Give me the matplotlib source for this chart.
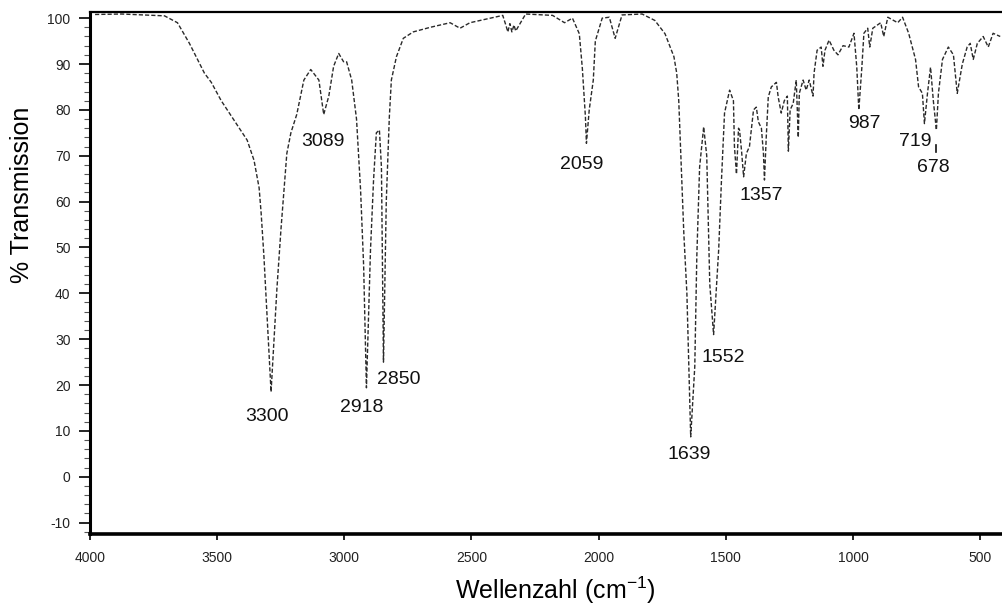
import numpy as np
import matplotlib.pyplot as plt
from matplotlib.ticker import MultipleLocator

# IR spectrum (wavenumber in cm-1, % transmission)
wavenumber = [3980, 3875, 3707, 3656, 3609, 3550, 3523, 3484, 3421, 3382, 3355, 3335,
              3327, 3316, 3288, 3265, 3249, 3237, 3226, 3210, 3187, 3159, 3132, 3100,
              3081, 3061, 3042, 3022, 3003, 2991, 2971, 2952, 2936, 2924, 2913, 2897,
              2885, 2874, 2862, 2854, 2846, 2835, 2823, 2815, 2795, 2768, 2729, 2662,
              2584, 2545, 2506, 2377, 2365, 2357, 2349, 2341, 2333, 2326, 2287, 2181,
              2134, 2103, 2076, 2064, 2052, 2048, 2037, 2021, 2013, 1986, 1958, 1935,
              1908, 1829, 1779, 1739, 1704, 1693, 1685, 1677, 1665, 1653, 1638, 1622,
              1614, 1603, 1587, 1575, 1563, 1548, 1528, 1517, 1505, 1485, 1470, 1466,
              1458, 1450, 1446, 1438, 1430, 1419, 1407, 1391, 1380, 1372, 1360, 1352,
              1348, 1341, 1333, 1321, 1301, 1294, 1282, 1270, 1258, 1254, 1247, 1235,
              1223, 1215, 1211, 1196, 1184, 1172, 1157, 1153, 1141, 1125, 1118, 1110,
              1094, 1075, 1059, 1039, 1016, 996, 985, 977, 965, 957, 942, 934,
              922, 891, 879, 863, 824, 805, 781, 754, 742, 727, 719, 707,
              695, 684, 672, 664, 648, 625, 605, 590, 570, 551, 539, 527,
              511, 488, 468, 449, 421]
transmission = [100.8, 100.9, 100.5, 99.0, 94.5, 88.0, 86.0, 82.0, 76.7, 73.4, 69.0, 63.0,
                57.5, 48.0, 18.5, 41.0, 54.0, 62.5, 70.5, 75.0, 79.0, 86.5, 88.8, 86.5,
                79.0, 83.0, 89.5, 92.3, 90.5, 90.5, 86.5, 78.0, 62.5, 46.0, 19.4, 49.5,
                64.7, 75.0, 75.6, 67.5, 25.0, 60.0, 78.4, 86.5, 91.6, 95.6, 97.0, 98.0,
                99.0, 97.8, 99.0, 100.6, 98.5, 97.0, 98.8, 97.0, 98.5, 97.2, 100.9, 100.6,
                99.0, 100.0, 96.6, 89.0, 78.5, 72.7, 80.0, 86.5, 95.0, 100.0, 100.2, 95.6,
                100.7, 100.9, 99.5, 96.6, 91.6, 88.0, 82.0, 70.5, 53.0, 40.0, 8.7, 24.0,
                48.0, 67.5, 76.3, 70.0, 42.0, 31.0, 49.5, 64.7, 79.3, 84.3, 82.0, 72.0,
                66.0, 76.0, 75.6, 71.0, 65.4, 70.5, 72.0, 80.0, 80.6, 77.4, 76.0, 70.5,
                64.7, 74.0, 82.8, 85.0, 86.0, 82.8, 79.3, 82.0, 83.0, 71.0, 80.0, 81.4,
                86.5, 74.0, 83.6, 86.5, 84.3, 86.5, 83.0, 88.0, 93.0, 93.7, 89.5, 93.0,
                95.2, 93.0, 92.0, 94.0, 93.7, 96.7, 89.3, 80.0, 89.3, 96.7, 97.8, 93.7,
                97.8, 99.0, 96.0, 100.2, 99.0, 100.2, 96.7, 91.0, 85.0, 83.6, 77.0, 83.6,
                89.3, 82.0, 75.6, 83.6, 91.0, 93.7, 92.0, 83.6, 90.0, 93.7, 94.5, 91.0,
                94.5, 96.0, 93.7, 96.7, 96.0]

# peak labels: (text, x, y)
peak_labels = ['3300', '3089', '2918', '2850', '2059', '1639', '1552', '1357', '987', '719', '678']
label_x = [3304, 3085, 2932, 2784, 2068, 1642, 1509, 1360, 957, 754, 683]
label_y = [13.1, 73.2, 15.0, 21.1, 68.0, 4.8, 26.1, 61.4, 77.1, 73.0, 67.5]

plt.rcParams['font.family'] = ['Liberation Sans', 'DejaVu Sans']
plt.rcParams['axes.unicode_minus'] = False
plt.rcParams['mathtext.fontset'] = 'custom'
plt.rcParams['mathtext.rm'] = 'Liberation Sans'

fig = plt.figure(figsize=(10.02, 6.09), dpi=100)
ax = fig.add_axes([0.0898, 0.123, 0.9102, 0.857])

ax.plot(wavenumber, transmission, color='#2a2a2a', lw=1.0, linestyle=(0, (3, 1.5)))

for t, x, y in zip(peak_labels, label_x, label_y):
    ax.text(x, y, t, fontsize=14, ha='center', va='center', color='#111111')
# small leader under the 719 / 678 pair
ax.plot([672, 672], [70.8, 72.4], color='#111111', lw=1.2)

ax.set_xlim(3980, 414)
ax.set_ylim(-12.5, 101.3)
ax.set_xticks([4000, 3500, 3000, 2500, 2000, 1500, 1000, 500])
ax.set_yticks(np.arange(-10, 101, 10))
ax.yaxis.set_minor_locator(MultipleLocator(2))

ax.tick_params(axis='y', which='major', direction='out', length=8, width=1.2,
               labelsize=10, labelcolor='#222222', pad=6)
ax.tick_params(axis='y', which='minor', direction='out', length=4, width=0.8, color='#555555')
ax.tick_params(axis='x', which='major', direction='out', length=4, width=1.2,
               labelsize=10, labelcolor='#222222', pad=8)

ax.spines['right'].set_visible(False)
ax.spines['left'].set_linewidth(2.2)
ax.spines['bottom'].set_linewidth(2.6)
ax.spines['top'].set_linewidth(1.6)

ax.set_ylabel('% Transmission', fontsize=18)
ax.yaxis.set_label_coords(-0.0746, 0.65)
ax.yaxis.label.set_verticalalignment('center')
ax.set_xlabel('Wellenzahl (cm$^{\\mathregular{-1}}$)', fontsize=18)
ax.xaxis.set_label_coords(0.51, -0.108)
ax.xaxis.label.set_verticalalignment('center')

fig.savefig('out.png', dpi=100)
